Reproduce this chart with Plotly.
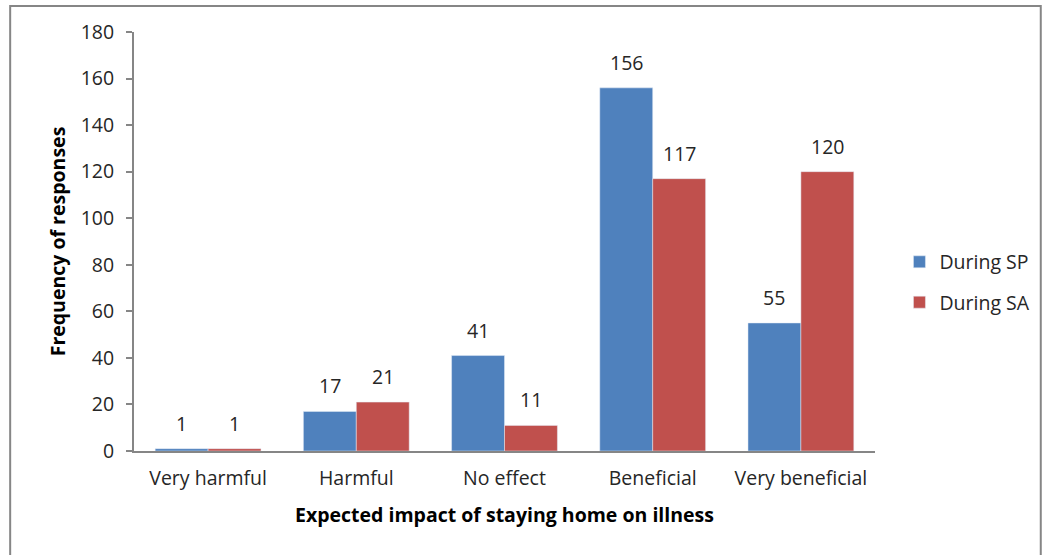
import plotly.graph_objects as go

categories = ["Very harmful", "Harmful", "No effect", "Beneficial", "Very beneficial"]
during_sp = [1, 17, 41, 156, 55]
during_sa = [1, 21, 11, 117, 120]
series_names = ["During SP", "During SA"]
y_ticks = [0, 20, 40, 60, 80, 100, 120, 140, 160, 180]

FONT = "'Open Sans', Lato, sans-serif"
BLUE = "#4F81BD"
RED = "#C0504D"
AXIS = "#868686"
TXT = "#262626"
BARGAP = 0.286

fig = go.Figure()
fig.add_trace(go.Bar(x=categories, y=during_sp, name=series_names[0], marker_color=BLUE,
                     legendgroup="a"))
fig.add_trace(go.Bar(x=categories, y=during_sa, name=series_names[1], marker_color=RED,
                     legendgroup="b"))

off = (1 - BARGAP) / 4
for vals, sgn in ((during_sp, -1), (during_sa, 1)):
    for i, v in enumerate(vals):
        fig.add_annotation(x=i + sgn * off, y=v, text=str(v), showarrow=False,
                           yanchor="bottom", yshift=10,
                           font=dict(family=FONT, size=19.5, color=TXT))

fig.add_shape(type="rect", xref="paper", yref="paper",
              x0=-0.1671, x1=1.2237, y0=-0.27, y1=1.0621,
              line=dict(color=AXIS, width=2), fillcolor="rgba(0,0,0,0)", layer="below")

fig.update_layout(
    width=1047, height=555,
    margin=dict(l=134, r=172, t=32, b=104),
    paper_bgcolor="white", plot_bgcolor="white",
    barmode="group", bargap=BARGAP, bargroupgap=0,
    font=dict(family=FONT, size=19.5, color=TXT),
    legend=dict(x=1.033, y=0.403, xanchor="left", yanchor="middle",
                font=dict(family=FONT, size=19.5, color=TXT),
                traceorder="grouped", tracegroupgap=12, itemwidth=30),
    showlegend=True,
)
fig.update_xaxes(
    showline=True, linecolor=AXIS, linewidth=2, ticks="",
    showgrid=False, ticklabelstandoff=9,
    title=dict(text="<b>Expected impact of staying home on illness</b>", standoff=18,
               font=dict(family=FONT, size=19.5, color="black")),
)
fig.update_yaxes(
    range=[0, 180], tickvals=y_ticks, showline=True, linecolor=AXIS, linewidth=2,
    ticks="outside", ticklen=6, tickcolor=AXIS, tickwidth=2, showgrid=False,
    zeroline=False, ticklabelstandoff=8,
    title=dict(text="<b>Frequency of responses</b>", standoff=10,
               font=dict(family=FONT, size=19.5, color="black")),
)

fig.write_html("out.html")
